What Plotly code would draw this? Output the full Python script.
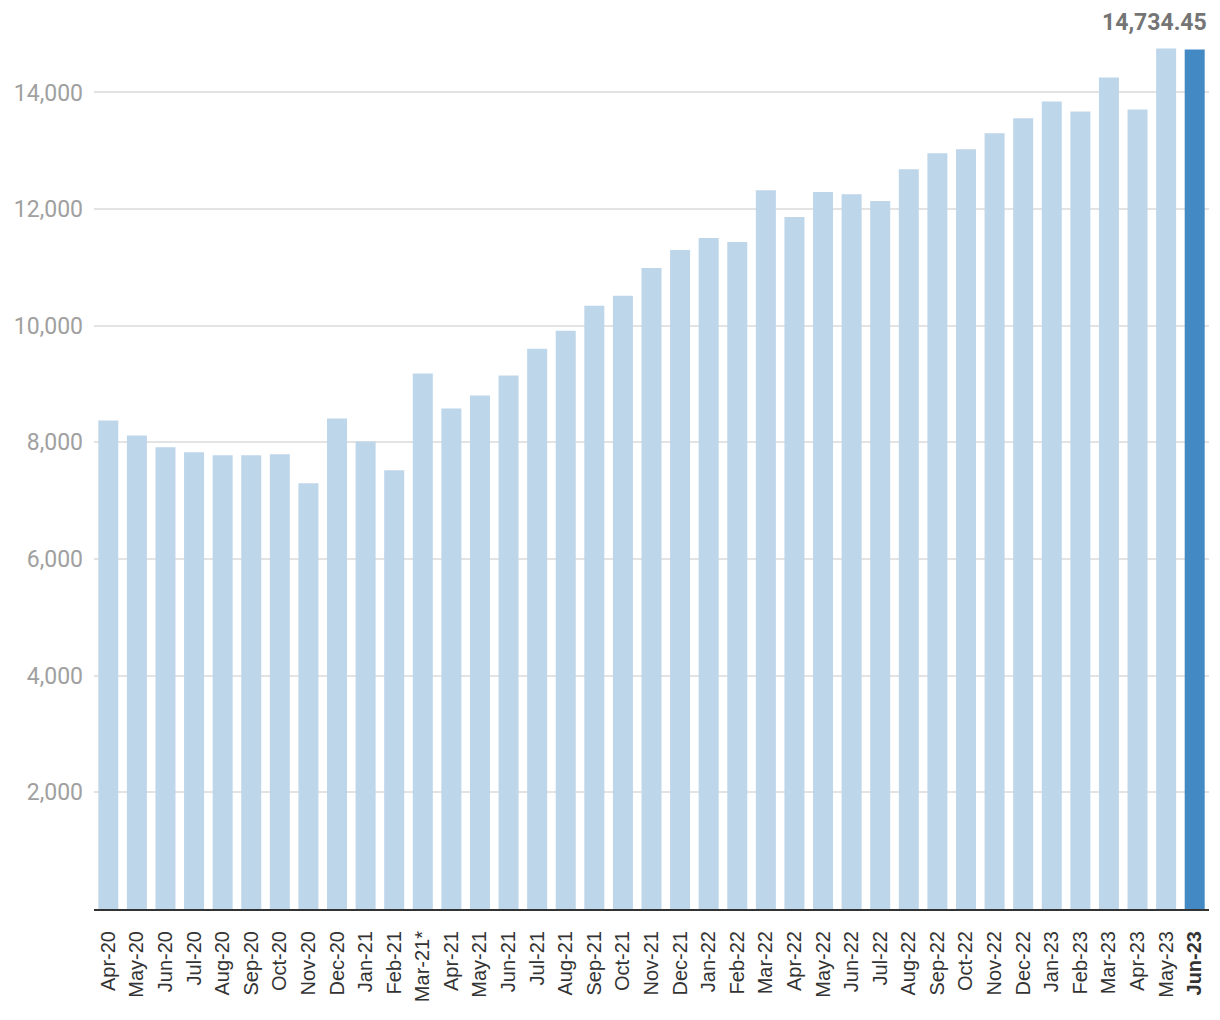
import plotly.graph_objects as go

months = ["Apr-20", "May-20", "Jun-20", "Jul-20", "Aug-20", "Sep-20", "Oct-20", "Nov-20", "Dec-20",
          "Jan-21", "Feb-21", "Mar-21*", "Apr-21", "May-21", "Jun-21", "Jul-21", "Aug-21", "Sep-21",
          "Oct-21", "Nov-21", "Dec-21", "Jan-22", "Feb-22", "Mar-22", "Apr-22", "May-22", "Jun-22",
          "Jul-22", "Aug-22", "Sep-22", "Oct-22", "Nov-22", "Dec-22", "Jan-23", "Feb-23", "Mar-23",
          "Apr-23", "May-23", "Jun-23"]
values = [8376, 8120, 7915, 7829, 7778, 7778, 7795, 7299, 8410,
          8017, 7521, 9180, 8581, 8803, 9145, 9607, 9915, 10342,
          10513, 10991, 11299, 11504, 11436, 12325, 11863, 12291, 12256,
          12137, 12684, 12957, 13026, 13299, 13556, 13846, 13675, 14256,
          13709, 14752, 14734.45]
ytick_vals = [2000, 4000, 6000, 8000, 10000, 12000, 14000]
ytick_text = ["2,000", "4,000", "6,000", "8,000", "10,000", "12,000", "14,000"]
highlight_label = "14,734.45"

light = "#bed6ea"
dark = "#438ac4"
colors = [light] * (len(months) - 1) + [dark]
ticktext = months[:-1] + ["<b>" + months[-1] + "</b>"]

fig = go.Figure()
fig.add_trace(go.Bar(x=months, y=values, marker=dict(color=colors, line=dict(width=0)),
                     hoverinfo="x+y"))

fig.update_layout(
    width=1220, height=1020,
    margin=dict(l=94, r=11, t=48, b=111),
    paper_bgcolor="white", plot_bgcolor="white",
    bargap=0.3, showlegend=False,
    annotations=[dict(text="<b>" + highlight_label + "</b>", xref="paper", yref="paper",
                      x=1.0, y=1.0, xanchor="right", yanchor="bottom", yshift=10,
                      showarrow=False, font=dict(family="Roboto", size=23, color="#757575"))],
)
fig.update_xaxes(
    type="category", tickmode="array", tickvals=months, ticktext=ticktext,
    tickangle=-90, tickfont=dict(family="Liberation Sans, Arial", size=20, color="#333333"),
    showline=True, linecolor="#333333", linewidth=2, ticks="", showgrid=False,
    ticklabelstandoff=12, range=[-0.5, len(months) - 0.5],
)
fig.update_yaxes(
    range=[0, 14762], tickmode="array", tickvals=ytick_vals, ticktext=ytick_text,
    tickfont=dict(family="Roboto", size=23, color="#a0a0a0"),
    showgrid=True, gridcolor="#e3e3e3", gridwidth=2, zeroline=False, showline=False,
    ticks="", ticklabelstandoff=10,
)

fig.write_html("out.html")
